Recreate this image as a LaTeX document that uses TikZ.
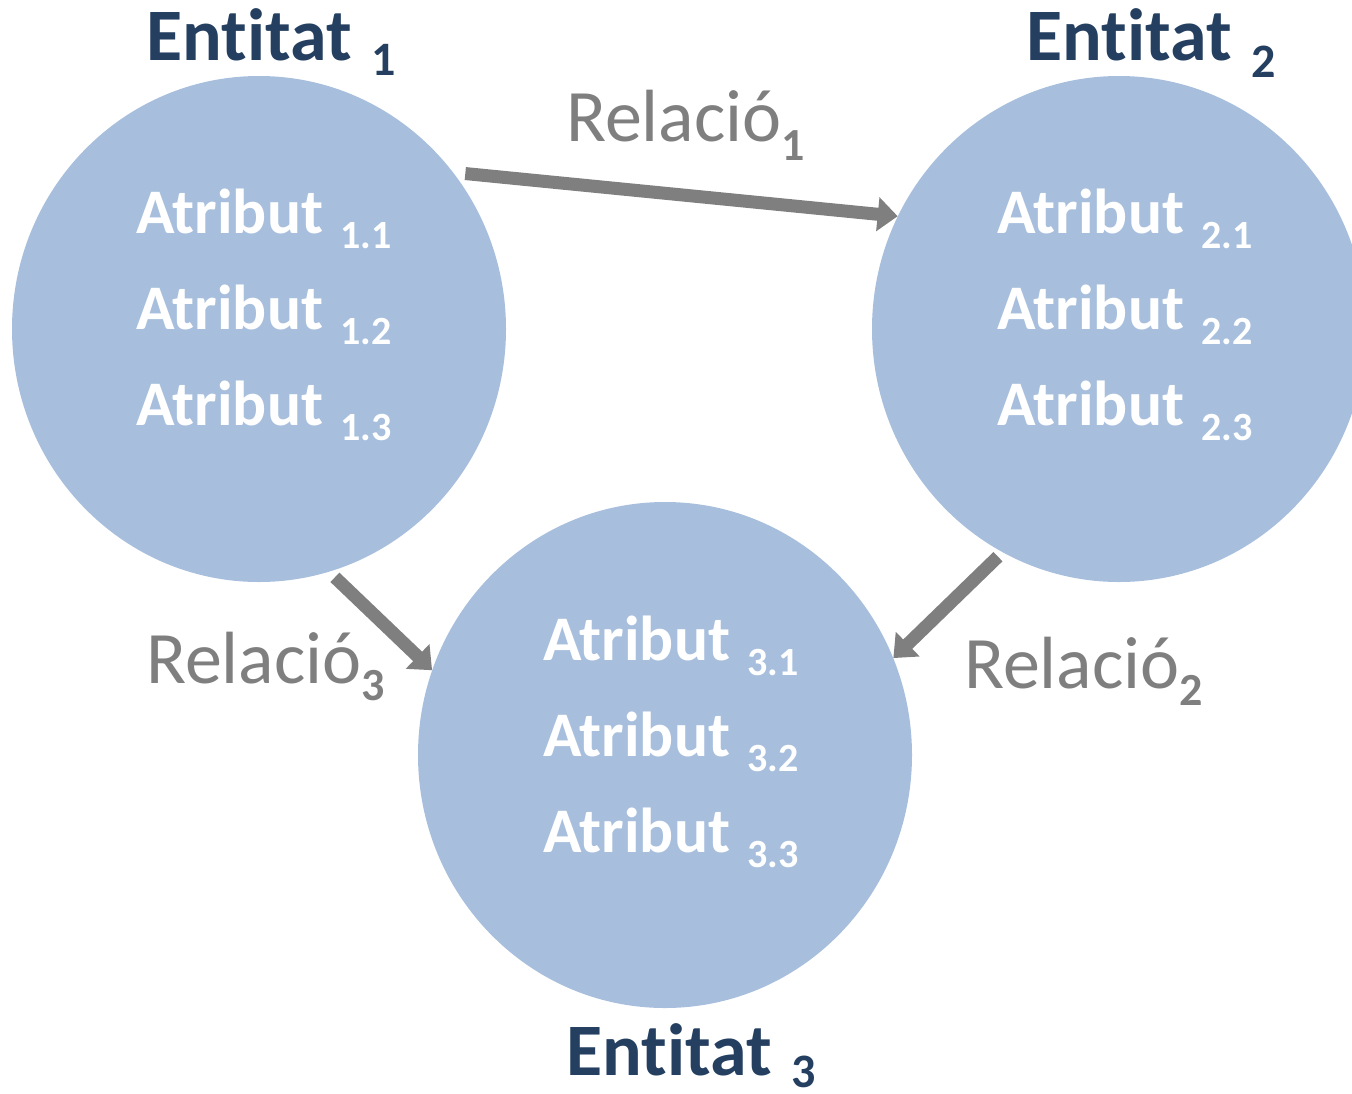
\documentclass[tikz,border=0pt]{standalone}
\usepackage{fontspec}
\setmainfont{Carlito}[Ligatures={NoCommon}]
\usetikzlibrary{arrows.meta,shapes.geometric,calc}
\definecolor{circfill}{HTML}{A7BFDD}
\definecolor{titleblue}{HTML}{243F60}
\definecolor{relgray}{HTML}{7F7F7F}
\newcommand\lowsub[3]{\raisebox{-#1pt}{\fontsize{#2}{#2}\selectfont #3}}
\tikzset{
  entcircle/.style={ellipse, fill=circfill, draw=none, minimum width=494pt, minimum height=506pt, inner sep=0pt},
  enttitle/.style={anchor=base west, inner sep=0pt, text=titleblue, font=\fontsize{74}{74}\selectfont\bfseries},
  attr/.style={anchor=base west, inner sep=0pt, text=white, font=\fontsize{63.5}{63.5}\selectfont\bfseries},
  rellabel/.style={anchor=base west, inner sep=0pt, text=relgray, font=\fontsize{74}{74}\selectfont},
  relarrow/.style={draw=relgray, line width=13pt, -{Triangle[length=20pt,width=33pt]}}
}
\begin{document}
\begin{tikzpicture}[x=1pt,y=-1pt]
\clip (0,0) rectangle (1352,1093);
% circles
\node[entcircle] (c1) at (259,329) {};
\node[entcircle] (c2) at (1119,329) {};
\node[entcircle] (c3) at (665,755) {};
% titles
\node[enttitle] (t1) at (146,60) {Entitat\hspace{20pt}\lowsub{15}{48}{1}};
\node[enttitle] (t2) at (1026,60) {Entitat\hspace{20pt}\lowsub{17}{48}{2}};
\node[enttitle] (t3) at (566,1075) {Entitat\hspace{20pt}\lowsub{12}{48}{3}};
% attributes
\node[attr] (a11) at (136,233) {Atribut\hspace{17pt}\lowsub{15}{40}{1.1}};
\node[attr] (a12) at (136,329) {Atribut\hspace{17pt}\lowsub{15}{40}{1.2}};
\node[attr] (a13) at (136,425) {Atribut\hspace{17pt}\lowsub{15}{40}{1.3}};
\node[attr] (a21) at (997,233) {Atribut\hspace{17pt}\lowsub{15}{40}{2.1}};
\node[attr] (a22) at (997,329) {Atribut\hspace{17pt}\lowsub{15}{40}{2.2}};
\node[attr] (a23) at (997,425) {Atribut\hspace{17pt}\lowsub{15}{40}{2.3}};
\node[attr] (a31) at (543,660) {Atribut\hspace{17pt}\lowsub{15}{40}{3.1}};
\node[attr] (a32) at (543,756) {Atribut\hspace{17pt}\lowsub{15}{40}{3.2}};
\node[attr] (a33) at (543,852) {Atribut\hspace{17pt}\lowsub{15}{40}{3.3}};
% relation labels
\node[rellabel] (r1) at (566,141) {Relació\lowsub{19}{46}{\bfseries 1}};
\node[rellabel] (r2) at (964,688) {Relació\lowsub{17}{46}{\bfseries 2}};
\node[rellabel] (r3) at (146,683) {Relació\lowsub{17}{46}{\bfseries 3}};
% arrows
\draw[relarrow] ($(c1.37)!-9pt!(c1.center)$) -- (c2.153);
\draw[relarrow] ($(c2.242)!-6pt!(c2.center)$) -- (c3.23);
\draw[relarrow] ($(c1.287)!-7pt!(c1.center)$) -- (c3.160);
\end{tikzpicture}
\end{document}
